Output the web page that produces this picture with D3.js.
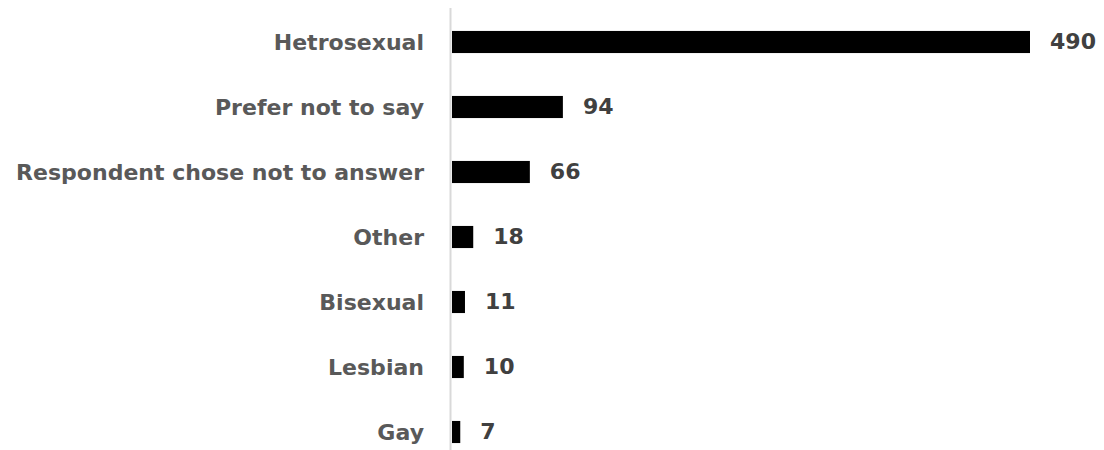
<!DOCTYPE html>
<html><head><meta charset="utf-8">
<script src="https://cdn.jsdelivr.net/npm/d3@7"></script>
<style>body{margin:0;background:#fff}svg{display:block}</style>
</head><body>
<svg id="chart" width="1104" height="450"></svg>
<script>
const categories = ["Hetrosexual","Prefer not to say","Respondent chose not to answer","Other","Bisexual","Lesbian","Gay"];
const values = [490, 94, 66, 18, 11, 10, 7];

const svg = d3.select("#chart");
const x0 = 452;
const x = d3.scaleLinear().domain([0, 490]).range([x0, 1030]);
const y = d3.scaleBand().domain(categories).range([9.5, 464.5]).paddingInner(0.66).paddingOuter(0.33);

svg.append("line").attr("x1", 450.5).attr("x2", 450.5).attr("y1", 8).attr("y2", 450)
  .attr("stroke", "#d9d9d9").attr("stroke-width", 2);

svg.selectAll("rect.bar").data(values).join("rect").attr("class","bar")
  .attr("x", x(0)).attr("y", (d,i)=>y(categories[i]))
  .attr("width", d=>x(d)-x(0)).attr("height", y.bandwidth()).attr("fill","#000");

const sx = 1.04;
svg.selectAll("text.cat").data(categories).join("text").attr("class","cat")
  .attr("transform", d=>`translate(424,${y(d)+y.bandwidth()/2}) scale(${sx},1)`)
  .attr("text-anchor","end").attr("dy","0.36em")
  .attr("font-family","DejaVu Sans").attr("font-weight","bold").attr("font-size",21.2)
  .attr("fill","#595959").text(d=>d);

svg.selectAll("text.val").data(values).join("text").attr("class","val")
  .attr("transform", (d,i)=>`translate(${x(d)+20},${y(categories[i])+y.bandwidth()/2}) scale(1.06,1)`)
  .attr("dy","0.36em")
  .attr("font-family","DejaVu Sans").attr("font-weight","bold").attr("font-size",20.8)
  .attr("fill","#404040").text(d=>d);
</script>
</body></html>
